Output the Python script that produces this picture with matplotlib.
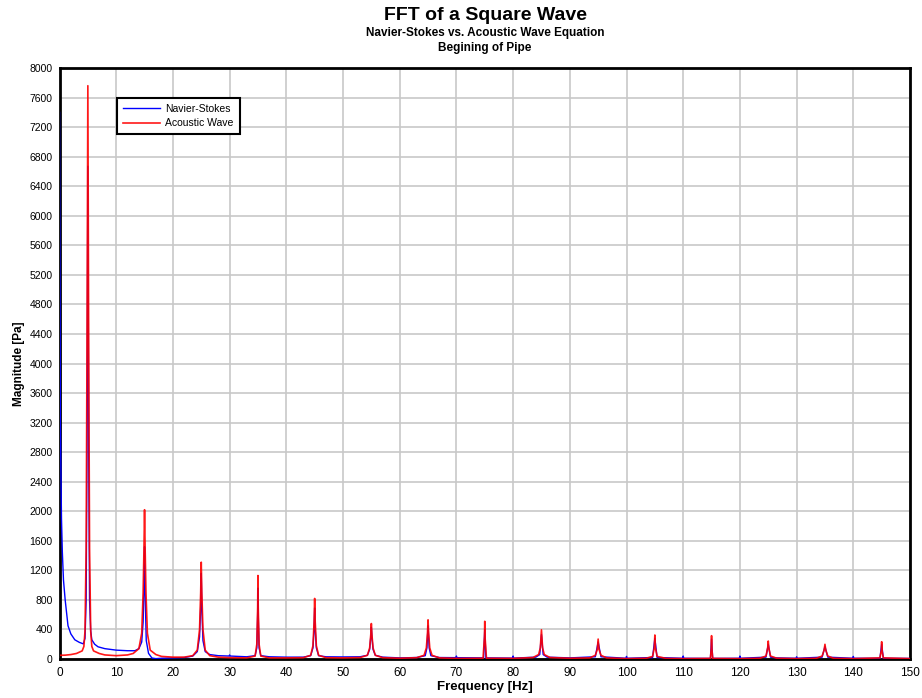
import matplotlib
matplotlib.use("Agg")
import matplotlib.pyplot as plt

plt.rcParams['font.family'] = ['Liberation Sans', 'DejaVu Sans']

# ---- data ----
ns_freq = [0, 0.15, 0.35, 0.5, 0.7, 1.0, 1.5, 2.0, 2.7, 3.5, 4.2, 4.5, 4.7, 4.85, 5.0, 5.15, 5.3, 5.5, 5.7, 6.2, 6.8, 8, 10, 12, 13.3, 14, 14.5, 14.75, 14.9, 15.0, 15.1, 15.3, 15.7, 16.3, 17, 18, 20, 22, 23.5, 24.3, 24.7, 24.9, 25.0, 25.1, 25.3, 25.7, 26.5, 28, 29.9, 30.0, 30.1, 33, 34.5, 34.8, 34.95, 35.0, 35.05, 35.2, 35.5, 37, 40, 43, 44.3, 44.7, 44.9, 45.0, 45.1, 45.3, 45.7, 47, 50, 53, 54.3, 54.7, 54.9, 55.0, 55.1, 55.3, 55.7, 57, 60, 63, 64.5, 64.8, 65.0, 65.2, 65.5, 67, 69.9, 70.0, 70.1, 74.8, 75.0, 75.2, 79.9, 80.0, 80.1, 84, 84.7, 85.0, 85.3, 86, 90, 94.5, 95.0, 95.5, 99.9, 100.0, 100.1, 104.6, 105.0, 105.4, 109.9, 110.0, 110.1, 114.8, 115.0, 115.2, 119.9, 120.0, 120.1, 124.6, 125.0, 125.4, 126.5, 129.9, 130.0, 130.1, 134.5, 135.0, 135.5, 139.9, 140.0, 140.1, 144.7, 145.0, 145.3, 150]
ns_mag = [7400, 3200, 1900, 1450, 1070, 800, 450, 340, 260, 225, 205, 280, 800, 2800, 6670, 2800, 800, 380, 260, 200, 165, 140, 120, 112, 112, 140, 230, 500, 1000, 1520, 900, 250, 77, 13, 5, 10, 15, 20, 40, 100, 300, 700, 1160, 700, 250, 100, 60, 45, 40, 55, 40, 30, 45, 150, 600, 960, 600, 150, 45, 30, 25, 25, 45, 150, 400, 690, 400, 150, 45, 30, 28, 30, 50, 130, 300, 430, 300, 130, 50, 25, 15, 20, 45, 150, 450, 150, 45, 20, 18, 40, 18, 15, 400, 15, 12, 40, 12, 25, 60, 330, 60, 25, 15, 30, 230, 30, 10, 35, 10, 20, 280, 20, 10, 40, 10, 8, 270, 8, 10, 40, 10, 25, 200, 25, 15, 10, 30, 10, 25, 170, 25, 10, 35, 10, 10, 200, 10, 8]

aw_freq = [0, 1, 2, 3, 4, 4.3, 4.5, 4.7, 4.85, 5.0, 5.15, 5.3, 5.5, 5.7, 6.0, 7, 8, 10, 12, 13, 14, 14.5, 14.75, 14.9, 15.0, 15.1, 15.25, 15.5, 16, 17, 18, 20, 22, 23.5, 24.3, 24.7, 24.9, 25.0, 25.1, 25.3, 25.7, 26.5, 28, 30, 33, 34.5, 34.8, 34.95, 35.0, 35.05, 35.2, 35.5, 37, 40, 43, 44.3, 44.7, 44.9, 45.0, 45.1, 45.3, 45.7, 47, 50, 53, 54.3, 54.7, 54.9, 55.0, 55.1, 55.3, 55.7, 57, 60, 63, 64.3, 64.7, 64.9, 65.0, 65.1, 65.3, 65.7, 67, 70, 74.7, 74.95, 75.0, 75.05, 75.3, 80, 83.5, 84.5, 84.8, 85.0, 85.2, 85.5, 86.5, 90, 93.5, 94.5, 94.85, 95.0, 95.15, 95.5, 96.5, 100, 103.5, 104.6, 104.9, 105.0, 105.1, 105.4, 107, 110, 114.8, 114.95, 115.0, 115.05, 115.2, 120, 123.5, 124.6, 124.9, 125.0, 125.1, 125.4, 126.5, 130, 133.5, 134.5, 134.85, 135.0, 135.15, 135.5, 136.5, 140, 144.7, 144.95, 145.0, 145.05, 145.3, 150]
aw_mag = [50, 52, 60, 75, 110, 170, 380, 1500, 4200, 7760, 4200, 1500, 380, 170, 110, 75, 55, 45, 55, 75, 140, 350, 900, 1500, 2020, 1500, 900, 350, 120, 60, 35, 25, 25, 45, 120, 400, 900, 1310, 900, 400, 120, 45, 25, 18, 15, 40, 200, 700, 1130, 700, 200, 40, 15, 15, 18, 50, 180, 500, 820, 500, 180, 50, 18, 15, 20, 50, 150, 330, 480, 330, 150, 50, 18, 10, 18, 50, 150, 350, 530, 350, 150, 50, 15, 8, 10, 300, 510, 300, 10, 8, 20, 60, 150, 395, 150, 60, 20, 10, 15, 50, 130, 270, 130, 50, 15, 5, 10, 35, 150, 325, 150, 35, 8, 5, 8, 150, 316, 150, 8, 5, 10, 40, 150, 243, 150, 40, 10, 5, 10, 40, 120, 199, 120, 40, 10, 5, 15, 120, 234, 120, 15, 5]

x_ticks = list(range(0, 151, 10))
y_ticks = list(range(0, 8001, 400))

fig = plt.figure(figsize=(9.22, 6.98), dpi=100)
ax = fig.add_axes([59.5 / 922, 39 / 698, 850.5 / 922, 591 / 698])

ax.plot(ns_freq, ns_mag, color='#0000ff', lw=1.0, label='Navier-Stokes', zorder=3)
ax.plot(aw_freq, aw_mag, color='#ff0000', lw=1.2, alpha=0.9, label='Acoustic Wave', zorder=4)

ax.set_xlim(0, 150)
ax.set_ylim(0, 8000)
ax.set_xticks(x_ticks)
ax.set_yticks(y_ticks)
ax.tick_params(axis='both', length=0)
ax.tick_params(axis='x', labelsize=8.5, pad=6)
ax.tick_params(axis='y', labelsize=7.5, pad=5)
ax.grid(True, color='#c8c8c8', lw=1.2, zorder=0)
ax.set_axisbelow(True)
for s in ax.spines.values():
    s.set_linewidth(2)
    s.set_color('black')

ax.set_xlabel('Frequency [Hz]', fontsize=9.5, fontweight='bold', labelpad=1)
ax.set_ylabel('Magnitude [Pa]', fontsize=8.5, fontweight='bold', labelpad=3)

fig.text(485 / 922, 1 - 16 / 698, 'FFT of a Square Wave', ha='center', va='center',
         fontsize=14, fontweight='bold')
fig.text(485 / 922, 1 - 33 / 698, 'Navier-Stokes vs. Acoustic Wave Equation', ha='center',
         va='center', fontsize=8.5, fontweight='bold')
fig.text(485 / 922, 1 - 48 / 698, 'Begining of Pipe', ha='center', va='center',
         fontsize=8.5, fontweight='bold')

leg = ax.legend(loc='upper left', bbox_to_anchor=((117 - 59.5) / 850.5, (659 - 98) / 591),
                fontsize=7.5, frameon=True, fancybox=False, borderpad=0.55,
                handlelength=3.6, handletextpad=0.5, labelspacing=0.45, borderaxespad=0)
leg.get_frame().set_edgecolor('black')
leg.get_frame().set_linewidth(1.5)
leg.get_frame().set_alpha(1)

fig.savefig('out.png', dpi=100)
